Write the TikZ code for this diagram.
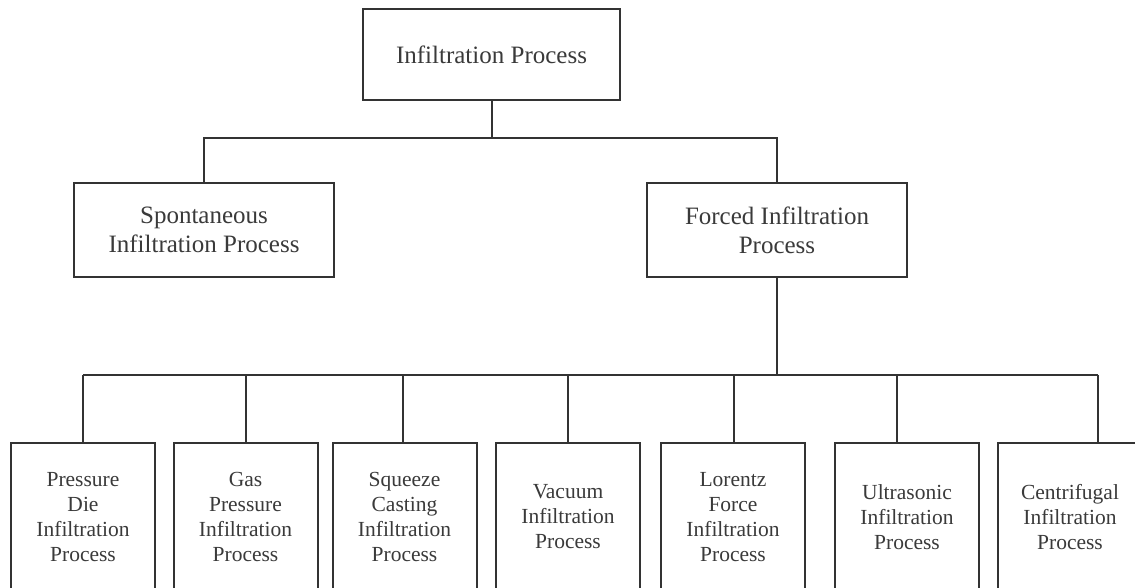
\documentclass[tikz,border=0pt]{standalone}
\usepackage{fontspec}
\setmainfont{Liberation Serif}
\definecolor{ink}{HTML}{333333}
\definecolor{txt}{HTML}{3A3A3A}
\tikzset{
  box/.style={draw=ink, line width=2pt, fill=white, rectangle, align=center, text=txt, inner sep=0pt},
  bigbox/.style={box, font=\fontsize{25}{29}\selectfont},
  smallbox/.style={box, font=\fontsize{21.5}{25}\selectfont, minimum width=144pt, minimum height=148pt},
  link/.style={draw=ink, line width=2pt},
}
\begin{document}
\begin{tikzpicture}[x=1pt,y=-1pt]
\clip (0,0) rectangle (1135,588);
\fill[white] (0,0) rectangle (1135,588);
% top levels
\node[bigbox, minimum width=257pt, minimum height=91pt] (top) at (491.5,54.5) {Infiltration Process};
\node[bigbox, minimum width=260pt, minimum height=94pt] (sp) at (204,230) {Spontaneous\\Infiltration Process};
\node[bigbox, minimum width=260pt, minimum height=94pt] (fo) at (777,230) {Forced Infiltration\\Process};
% bottom level
\node[smallbox] (b1) at (83,517) {Pressure\\Die\\Infiltration\\Process};
\node[smallbox] (b2) at (245.5,517) {Gas\\Pressure\\Infiltration\\Process};
\node[smallbox] (b3) at (404.5,517) {Squeeze\\Casting\\Infiltration\\Process};
\node[smallbox] (b4) at (568,517) {Vacuum\\Infiltration\\Process};
\node[smallbox] (b5) at (733,517) {Lorentz\\Force\\Infiltration\\Process};
\node[smallbox] (b6) at (907,517) {Ultrasonic\\Infiltration\\Process};
\node[smallbox] (b7) at (1070,517) {Centrifugal\\Infiltration\\Process};
% junction coordinates
\coordinate (t1) at (491.5,138);
\coordinate (h1) at (204,138);
\coordinate (h2) at (777,138);
\coordinate (f1) at (777,375);
\coordinate (s1) at (83,375);
\coordinate (s2) at (246,375);
\coordinate (s3) at (403,375);
\coordinate (s4) at (568,375);
\coordinate (s5) at (734,375);
\coordinate (s6) at (897,375);
\coordinate (s7) at (1098,375);
% connectors
\draw[link] (top.south) -- (t1);
\draw[link] (sp.north) -- (h1) -- (h2) -- (fo.north);
\draw[link] (fo.south) -- (f1);
\draw[link] (s1) -- (s7);
\foreach \i in {1,...,7} {
  \draw[link] (b\i.north -| s\i) -- (s\i);
}
\end{tikzpicture}
\end{document}
